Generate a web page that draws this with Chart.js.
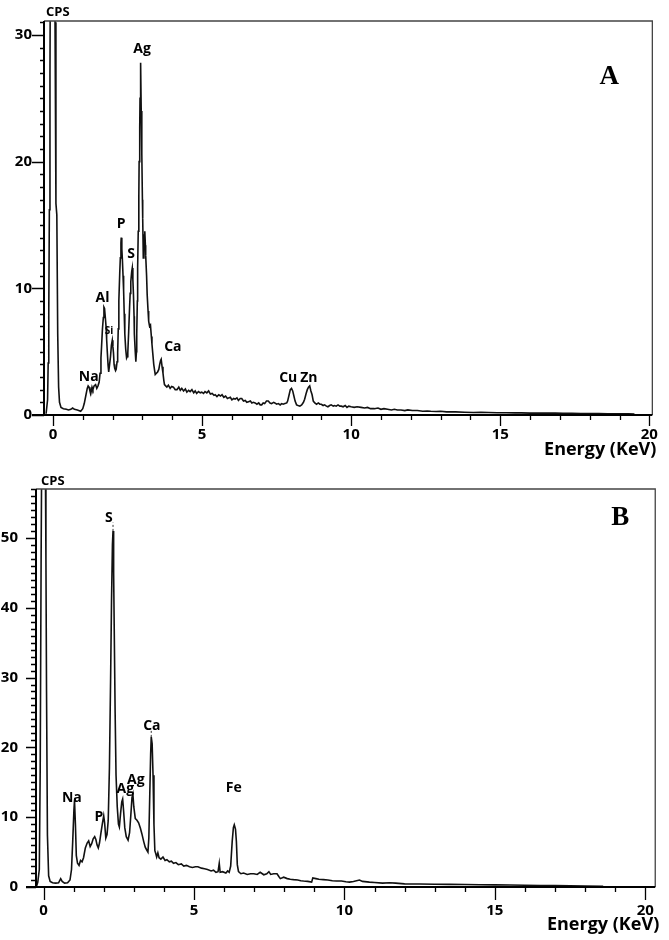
<!DOCTYPE html>
<html>
<head>
<meta charset="utf-8">
<script src="https://cdn.jsdelivr.net/npm/chart.js@4"></script>
<style>
  html, body { margin: 0; padding: 0; background: #fff; }
  body { width: 669px; height: 940px; position: relative; overflow: hidden; }
  canvas { position: absolute; left: 0; }
  #chartA { top: 0; }
  #chartB { top: 455px; }
</style>
</head>
<body>
<canvas id="chartA" width="669" height="465"></canvas>
<canvas id="chartB" width="669" height="485"></canvas>
<script>
// ======================================
// Data (energy keV, counts CPS)
// ======================================
const spectrumA = [
  [-0.23,0.1],[-0.18,1.2],[-0.16,4.1],[-0.14,8],[-0.12,16.2],[-0.10,27],[-0.08,40],[0.04,40],[0.07,31],[0.1,16.7],
  [0.13,15.8],[0.16,6.4],[0.19,2.2],[0.22,1.0],[0.27,0.6],[0.35,0.5],[0.45,0.45],[0.52,0.4],[0.6,0.45],[0.66,0.55],
  [0.72,0.45],[0.82,0.4],[0.93,0.3],[1.0,0.5],[1.05,0.9],[1.1,1.5],[1.15,2.1],[1.18,2.3],[1.21,2.2],[1.24,1.9],
  [1.27,1.7],[1.31,2.2],[1.34,2.0],[1.38,2.3],[1.43,2.4],[1.47,2.1],[1.51,2.3],[1.55,2.6],[1.58,3.3],[1.61,4.5],
  [1.63,5.4],[1.66,6.8],[1.69,7.7],[1.71,8.5],[1.73,8.4],[1.76,7.6],[1.78,7.0],[1.8,6.0],[1.82,5.1],[1.85,3.9],
  [1.87,3.4],[1.9,4.0],[1.93,4.6],[1.96,5.5],[1.99,5.9],[2.01,5.4],[2.03,4.9],[2.05,4.0],[2.07,3.7],[2.1,3.5],
  [2.12,3.6],[2.15,4.2],[2.17,4.9],[2.19,6.8],[2.21,9.0],[2.24,11.2],[2.26,12.4],[2.28,13.6],[2.29,14.0],[2.31,13.1],
  [2.33,12.2],[2.35,11.0],[2.37,9.8],[2.39,8.0],[2.41,6.4],[2.44,5.2],[2.47,4.5],[2.49,4.6],[2.51,4.9],[2.54,6.6],
  [2.57,8.5],[2.59,9.6],[2.61,10.5],[2.64,11.3],[2.66,11.6],[2.68,10.7],[2.70,9.5],[2.72,7.8],[2.73,6.4],[2.76,5.0],
  [2.78,4.2],[2.80,5.0],[2.81,6.4],[2.83,9.0],[2.84,11.6],[2.86,14.5],[2.88,17.3],[2.89,20],[2.91,22.7],[2.92,25],
  [2.94,27.8],[2.96,24],[2.98,20.6],[3.0,17],[3.01,15.5],[3.03,12.4],[3.05,13.8],[3.06,14.2],[3.08,14.5],[3.10,13.4],
  [3.11,12.6],[3.14,11.0],[3.16,9.5],[3.19,8.2],[3.21,7.4],[3.24,7.0],[3.27,7.1],[3.30,6.2],[3.32,5.6],[3.35,4.8],
  [3.38,4.0],[3.41,3.5],[3.43,3.2],[3.47,3.3],[3.51,3.4],[3.55,3.6],[3.58,4.0],[3.61,4.3],[3.63,4.4],[3.66,3.8],
  [3.69,3.3],[3.72,2.7],[3.74,2.4],[3.78,2.3],[3.82,2.2],[3.87,2.35],[3.93,2.1],[3.98,2.25],[4.04,2.2],[4.1,2.0],
  [4.16,2.0],[4.22,2.2],[4.27,1.95],[4.32,2.1],[4.38,1.9],[4.44,2.05],[4.49,1.8],[4.55,1.95],[4.6,1.85],[4.66,2.0],
  [4.72,1.75],[4.77,1.9],[4.82,1.7],[4.88,1.85],[4.94,1.75],[4.99,1.8],[5.05,1.7],[5.1,1.85],[5.16,1.75],[5.22,1.9],
  [5.28,1.65],[5.34,1.7],[5.4,1.55],[5.44,1.6],[5.5,1.45],[5.56,1.6],[5.62,1.5],[5.67,1.6],[5.73,1.4],[5.79,1.5],
  [5.85,1.3],[5.89,1.35],[5.95,1.4],[6.0,1.2],[6.06,1.3],[6.11,1.25],[6.17,1.35],[6.22,1.15],[6.28,1.3],[6.33,1.3],
  [6.39,1.1],[6.45,1.15],[6.5,1.0],[6.56,1.05],[6.62,1.1],[6.67,0.95],[6.72,1.0],[6.78,0.95],[6.84,0.85],[6.9,0.95],
  [6.95,0.8],[7.0,0.8],[7.05,0.95],[7.1,0.9],[7.16,1.1],[7.22,1.1],[7.28,0.95],[7.33,0.9],[7.4,1.0],[7.44,0.95],
  [7.5,0.85],[7.56,0.9],[7.62,0.8],[7.67,0.9],[7.72,0.85],[7.78,0.9],[7.84,0.95],[7.87,1.1],[7.92,1.6],[7.96,2.0],
  [8.0,2.1],[8.04,1.9],[8.08,1.5],[8.12,1.1],[8.17,0.8],[8.22,0.75],[8.28,0.7],[8.34,0.8],[8.4,1.0],[8.44,1.25],
  [8.49,1.7],[8.53,2.0],[8.57,2.2],[8.61,2.3],[8.65,1.9],[8.69,1.6],[8.73,1.1],[8.78,0.95],[8.84,0.85],[8.9,0.95],
  [8.95,0.85],[9.0,0.85],[9.06,0.75],[9.11,0.8],[9.17,0.7],[9.22,0.65],[9.28,0.75],[9.33,0.8],[9.4,0.7],[9.44,0.75],
  [9.5,0.7],[9.56,0.8],[9.62,0.7],[9.67,0.7],[9.73,0.65],[9.8,0.75],[9.86,0.6],[9.92,0.7],[10.0,0.65],[10.1,0.6],
  [10.2,0.65],[10.33,0.6],[10.45,0.55],[10.55,0.6],[10.65,0.5],[10.78,0.5],[10.9,0.55],[11.0,0.45],[11.1,0.5],[11.22,0.45],
  [11.35,0.4],[11.45,0.45],[11.55,0.4],[11.67,0.4],[11.8,0.35],[11.9,0.4],[12.05,0.35],[12.22,0.35],[12.4,0.3],[12.55,0.32],
  [12.67,0.3],[12.85,0.28],[13.0,0.3],[13.2,0.25],[13.5,0.25],[13.8,0.22],[14.1,0.2],[14.35,0.22],[14.6,0.2],[14.9,0.18],
  [15.2,0.18],[15.5,0.17],[15.7,0.17],[16.0,0.15],[16.3,0.16],[16.6,0.15],[16.85,0.15],[17.1,0.13],[17.4,0.13],[17.7,0.12],
  [17.97,0.12],[18.3,0.11],[18.6,0.1],[18.9,0.1],[19.1,0.1],[19.3,0.09],[19.5,0.08]
];

const spectrumB = [
  [-0.24,0],[-0.19,0.7],[-0.14,2.5],[-0.11,17],[-0.08,47],[-0.05,70],[0.05,70],[0.08,47],[0.10,28],[0.13,7.4],
  [0.17,1.6],[0.22,0.8],[0.3,0.6],[0.4,0.55],[0.5,0.6],[0.57,1.2],[0.62,0.8],[0.7,0.55],[0.8,0.6],[0.88,1.0],
  [0.93,2.5],[0.97,6.5],[1.01,11],[1.03,12.4],[1.06,9],[1.09,4.5],[1.13,3.4],[1.18,3.1],[1.23,3.8],[1.28,3.6],
  [1.33,4.2],[1.39,5.6],[1.45,6.3],[1.50,6.6],[1.55,5.8],[1.6,6.2],[1.65,6.9],[1.70,7.2],[1.74,6.8],[1.78,6.0],
  [1.82,5.6],[1.86,6.3],[1.91,7.8],[1.96,9.2],[2.0,10.2],[2.03,9.2],[2.07,7.0],[2.11,7.5],[2.15,9.5],[2.19,17],
  [2.23,30],[2.26,41],[2.29,49],[2.31,51],[2.33,45],[2.35,37],[2.38,25],[2.41,16],[2.45,11.5],[2.49,9.0],
  [2.52,8.6],[2.56,10.5],[2.6,12.2],[2.63,12.6],[2.66,11],[2.7,8.5],[2.75,7.2],[2.81,6.7],[2.86,7.8],[2.9,10.2],
  [2.94,12.8],[2.97,13.3],[3.0,11.5],[3.05,9.8],[3.1,9.6],[3.16,9.2],[3.22,8.4],[3.27,7.6],[3.33,6.5],[3.38,5.7],
  [3.43,5.3],[3.47,5.0],[3.5,7],[3.53,13],[3.56,19],[3.58,21.5],[3.61,20.5],[3.64,16],[3.67,9],[3.70,5.2],
  [3.73,4.8],[3.76,4.3],[3.8,4.9],[3.84,4.2],[3.9,4.0],[3.97,4.3],[4.04,3.8],[4.1,3.9],[4.18,3.6],[4.25,3.7],
  [4.32,3.4],[4.4,3.5],[4.48,3.2],[4.58,3.3],[4.66,3.0],[4.75,3.1],[4.85,2.9],[4.95,2.8],[5.05,2.9],[5.13,2.9],
  [5.25,2.7],[5.35,2.6],[5.45,2.5],[5.57,2.3],[5.65,2.4],[5.73,2.1],[5.80,2.2],[5.84,3.4],[5.87,2.1],[5.95,2.2],
  [6.06,2.0],[6.12,2.3],[6.17,2.1],[6.22,3.0],[6.27,6.5],[6.31,8.5],[6.34,8.9],[6.38,8.3],[6.41,6.5],[6.44,3.2],
  [6.48,2.2],[6.56,1.9],[6.65,2.0],[6.77,1.8],[6.88,1.9],[6.99,1.9],[7.1,1.8],[7.2,2.1],[7.32,1.75],[7.42,1.9],
  [7.49,2.2],[7.55,1.8],[7.65,1.9],[7.76,1.9],[7.82,1.5],[7.87,1.2],[7.98,1.4],[8.1,1.2],[8.2,1.1],[8.31,1.05],
  [8.45,1.0],[8.55,0.9],[8.64,0.85],[8.78,0.8],[8.91,0.7],[8.95,1.3],[9.05,1.2],[9.15,1.1],[9.30,1.05],[9.45,1.0],
  [9.6,0.9],[9.74,0.85],[9.9,0.85],[10.05,0.75],[10.17,0.7],[10.3,0.8],[10.5,1.0],[10.6,0.8],[10.83,0.7],[11.0,0.65],
  [11.27,0.55],[11.5,0.6],[11.7,0.55],[12.0,0.45],[12.5,0.42],[13.0,0.4],[13.5,0.38],[14.0,0.35],[14.5,0.32],[15.0,0.3],
  [15.5,0.28],[16.0,0.25],[16.5,0.22],[17.0,0.2],[17.5,0.18],[18.0,0.15],[18.6,0.1]
];

// peak labels: [text, energy, cps]
const peaksA = [
  ['Ag', 2.99, 28.9], ['P', 2.29, 15.1], ['S', 2.62, 12.7], ['Al', 1.66, 9.2], ['Si', 1.88, 6.6],
  ['Na', 1.2, 3.0], ['Ca', 4.02, 5.4], ['Cu', 7.89, 2.9], ['Zn', 8.58, 2.9]
];
const peaksB = [
  ['S', 2.17, 52.9], ['Ca', 3.6, 23.1], ['Na', 0.94, 12.8], ['P', 1.84, 10.0],
  ['Ag', 2.72, 14.1], ['Ag', 3.07, 15.3], ['Fe', 6.32, 14.2]
];
// dotted peak markers in B: [energy, from cps, to cps]
const markersB = [[2.31, 51, 52.2], [3.58, 21.5, 22.4]];

const energyTicks = [0, 5, 10, 15, 20];
const cpsTicksA = [0, 10, 20, 30];
const cpsTicksB = [0, 10, 20, 30, 40, 50];

// ======================================
// Axis decoration plugin
// ======================================
const decor = {
  id: 'decor',
  afterDraw(chart, args, o) {
    const ctx = chart.ctx;
    const a = chart.chartArea;
    const xs = chart.scales.x, ys = chart.scales.y;
    ctx.save();

    // thin frame top/right
    ctx.strokeStyle = '#444';
    ctx.lineWidth = 1.3;
    ctx.beginPath();
    ctx.moveTo(a.left, a.top); ctx.lineTo(a.right, a.top); ctx.lineTo(a.right, a.bottom);
    ctx.stroke();

    // axes
    ctx.strokeStyle = '#000';
    ctx.lineWidth = 2;
    ctx.beginPath();
    ctx.moveTo(a.left - o.overhang, a.bottom); ctx.lineTo(a.right, a.bottom);
    ctx.moveTo(a.left, a.bottom); ctx.lineTo(a.left, a.top);
    ctx.stroke();

    // tick marks
    ctx.lineWidth = 1.3;
    ctx.beginPath();
    for (let v = 0; v <= Math.floor(ys.max); v++) {
      const py = Math.round(ys.getPixelForValue(v)) + 0.5;
      const len = v % 10 === 0 ? o.yMajor : o.yMinor;
      ctx.moveTo(a.left - len, py); ctx.lineTo(a.left, py);
    }
    for (let v = 0; v <= Math.floor(xs.max); v++) {
      const px = Math.round(xs.getPixelForValue(v)) + 0.5;
      const len = v % 5 === 0 ? o.xMajor : o.xMinor;
      ctx.moveTo(px, a.bottom); ctx.lineTo(px, a.bottom + len);
    }
    ctx.stroke();

    // dotted peak markers
    if (o.markers) {
      ctx.setLineDash([2, 2]);
      ctx.lineWidth = 1;
      ctx.strokeStyle = '#333';
      ctx.beginPath();
      o.markers.forEach(([e, c0, c1]) => {
        const px = xs.getPixelForValue(e);
        ctx.moveTo(px, ys.getPixelForValue(c0));
        ctx.lineTo(px, ys.getPixelForValue(c1));
      });
      ctx.stroke();
      ctx.setLineDash([]);
    }

    // peak labels
    ctx.fillStyle = '#000';
    ctx.textAlign = 'center';
    ctx.textBaseline = 'middle';
    o.peaks.forEach(([t, e, c]) => {
      ctx.font = (t === 'Si' ? 'bold 10px' : 'bold 14px') + ' "Open Sans", sans-serif';
      ctx.fillText(t, xs.getPixelForValue(e), ys.getPixelForValue(c));
    });

    // panel letter
    ctx.font = 'bold 27px "Liberation Serif", serif';
    ctx.fillText(o.letter, a.right + o.letterDx, a.top + o.letterDy);

    // axis titles
    ctx.font = 'bold 13px "Open Sans", sans-serif';
    ctx.textAlign = 'left';
    ctx.fillText('CPS', a.left + o.cpsDx, a.top - o.cpsDy);
    ctx.font = 'bold 18px "Open Sans", sans-serif';
    ctx.textAlign = 'right';
    ctx.fillText('Energy (KeV)', a.right + o.titleDx, a.bottom + o.titleDy);
    ctx.restore();
  }
};

function near(v, list) {
  return list.some(t => Math.abs(v - t) < 1e-6);
}

function makeChart(id, data, cfg) {
  const tickFont = { family: '"Open Sans", sans-serif', size: 15, weight: 'bold' };
  return new Chart(document.getElementById(id), {
    type: 'line',
    data: {
      datasets: [{
        data: data.map(([x, y]) => ({ x, y })),
        borderColor: '#111',
        borderWidth: 1.6,
        pointRadius: 0,
        tension: 0,
        fill: false
      }]
    },
    options: {
      responsive: false,
      animation: false,
      layout: { padding: { top: cfg.padTop, right: cfg.padRight, bottom: 0, left: 0 } },
      plugins: {
        legend: { display: false },
        tooltip: { enabled: false },
        decor: cfg.decor
      },
      scales: {
        x: {
          type: 'linear',
          min: cfg.xMin, max: cfg.xMax,
          afterFit: s => { s.height = cfg.xAxisH; },
          grid: { display: false, drawTicks: false },
          border: { display: false },
          ticks: {
            stepSize: 5, includeBounds: false, autoSkip: false, maxRotation: 0,
            padding: cfg.xPad, color: '#000', font: tickFont,
            callback: v => near(v, energyTicks) ? String(Math.round(v)) : ''
          }
        },
        y: {
          type: 'linear',
          min: 0, max: cfg.yMax,
          afterFit: s => { s.width = cfg.yAxisW; },
          grid: { display: false, drawTicks: false },
          border: { display: false },
          ticks: {
            stepSize: 10, includeBounds: false, autoSkip: false,
            padding: cfg.yPad, color: '#000', font: tickFont,
            callback: v => near(v, cfg.cpsTicks) ? String(Math.round(v)) : ''
          }
        }
      }
    },
    plugins: [decor]
  });
}

makeChart('chartA', spectrumA, {
  xMin: -0.3, xMax: 20.1, yMax: 31.1, cpsTicks: cpsTicksA,
  padTop: 17, padRight: 13, xAxisH: 50, yAxisW: 44, xPad: 11, yPad: 12,
  decor: {
    peaks: peaksA, letter: 'A', letterDx: -43, letterDy: 56,
    overhang: 12, yMajor: 12, yMinor: 4, xMajor: 11, xMinor: 5,
    cpsDx: 2, cpsDy: 9, titleDx: 4, titleDy: 35
  }
});

makeChart('chartB', spectrumB, {
  xMin: -0.25, xMax: 20.33, yMax: 57, cpsTicks: cpsTicksB,
  padTop: 34, padRight: 7, xAxisH: 53, yAxisW: 36, xPad: 15, yPad: 18,
  decor: {
    peaks: peaksB, markers: markersB, letter: 'B', letterDx: -35, letterDy: 29,
    overhang: 10, yMajor: 10, yMinor: 5, xMajor: 13, xMinor: 5,
    cpsDx: 5, cpsDy: 8, titleDx: 4, titleDy: 38
  }
});
</script>
</body>
</html>
